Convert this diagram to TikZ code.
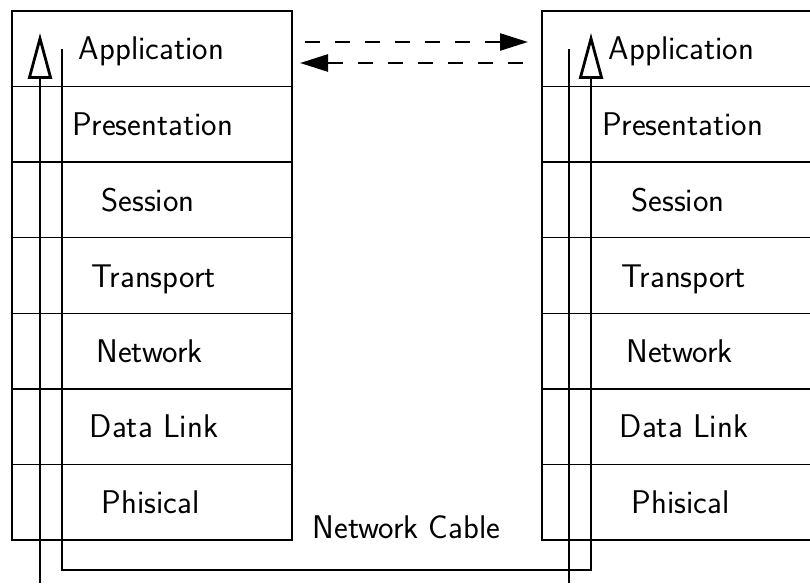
\documentclass[tikz,border=0pt]{standalone}
\usetikzlibrary{arrows.meta}
\begin{document}
\begin{tikzpicture}[x=1pt,y=-1pt,
  layerbox/.style={draw=black,line width=1.4pt},
  layertext/.style={anchor=base,inner sep=0pt,font=\fontsize{32.8}{38}\selectfont\sffamily},
  wire/.style={line width=2.8pt,line join=miter},
  upflow/.style={wire,-{Triangle[open,length=46pt,width=24pt,line width=2.8pt]}},
  peer/.style={line width=2.6pt,dash pattern=on 15pt off 15pt,-{Triangle[length=28pt,width=17pt]}}]
\useasboundingbox (0,0) rectangle (810,583);
\clip (0,0) rectangle (810,583);

% two protocol stacks, seven layers each
\foreach \x in {12,542}{
  \foreach \i in {0,...,6}{
    \draw[layerbox] (\x,{11+75.57*\i}) rectangle (\x+280,{11+75.57*(\i+1)});
  }
}

% layer names, left stack
\node[layertext] (lA) at (151.5,60)  {Application};
\node[layertext] (lP) at (152.5,135) {Presentation};
\node[layertext] (lS) at (148,211)   {Session};
\node[layertext] (lT) at (153.5,287) {Transport};
\node[layertext] (lN) at (149.5,362) {Network};
\node[layertext] (lD) at (154,437)   {Data Link};
\node[layertext] (lH) at (150.5,513) {Phisical};

% layer names, right stack
\node[layertext] (rA) at (681.5,60)  {Application};
\node[layertext] (rP) at (682.5,135) {Presentation};
\node[layertext] (rS) at (678,211)   {Session};
\node[layertext] (rT) at (683.5,287) {Transport};
\node[layertext] (rN) at (679.5,362) {Network};
\node[layertext] (rD) at (684,437)   {Data Link};
\node[layertext] (rH) at (680.5,513) {Phisical};

\node[layertext] (cable) at (406.5,538) {Network Cable};

% end points of the vertical paths
\coordinate (lupBot) at (40,583);
\coordinate (lupTop) at (40,33);
\coordinate (cabTop) at (62,49);
\coordinate (cabBot) at (62,570);
\coordinate (rupTop) at (591,33);
\coordinate (rdnTop) at (569,49);
\coordinate (rdnBot) at (569,583);

% data flow through the stacks and the cable
\draw[upflow] (lupBot) -- (lupTop);
\draw[upflow] (cabTop) -- (cabBot) -| (rupTop);
\draw[wire] (rdnTop) -- (rdnBot);

% peer-to-peer communication between application layers
\coordinate (pAfrom) at (305,42);
\coordinate (pAto)   at (528,42);
\coordinate (pBfrom) at (523,63);
\coordinate (pBto)   at (300,63);
\draw[peer] (pAfrom) -- (pAto);
\draw[peer] (pBfrom) -- (pBto);
\end{tikzpicture}
\end{document}
